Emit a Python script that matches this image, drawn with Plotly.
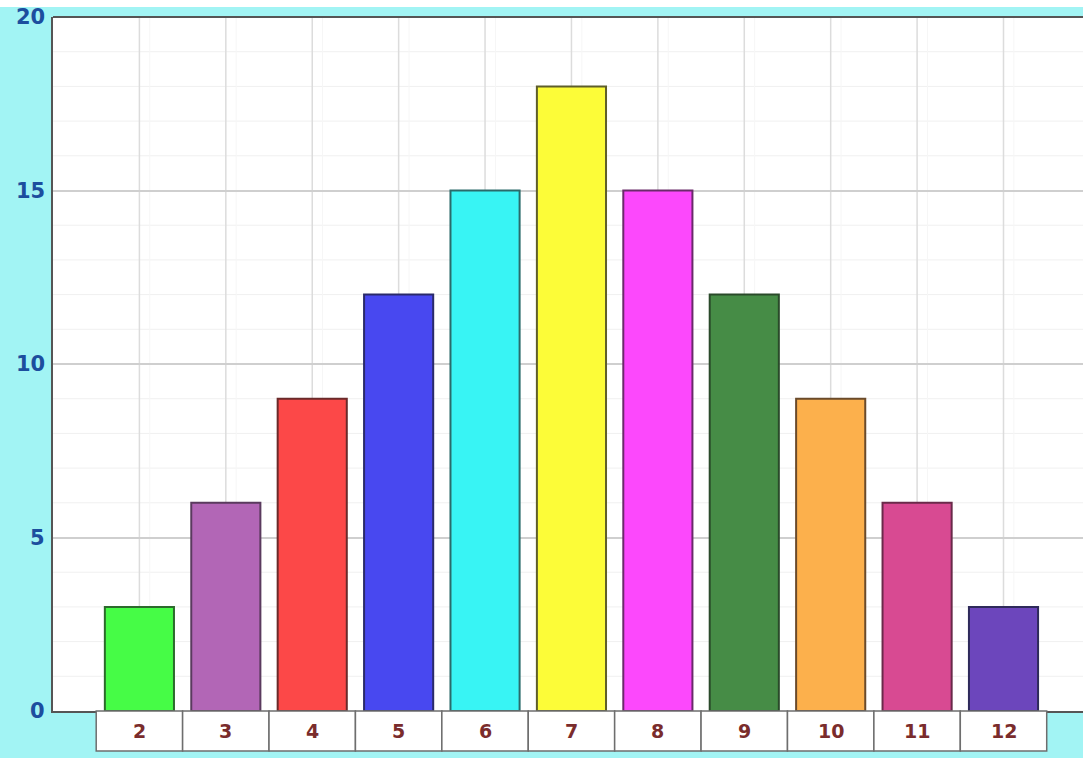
import plotly.graph_objects as go

# Dice-sum frequency chart
sums = ["2", "3", "4", "5", "6", "7", "8", "9", "10", "11", "12"]
counts = [3, 6, 9, 12, 15, 18, 15, 12, 9, 6, 3]
bar_colors = ["#46fc46", "#b266b6", "#fc4848", "#4848f0", "#38f4f4", "#fcfc38",
              "#fc48fc", "#468c46", "#fcb04c", "#d84a92", "#6c46bc"]
edge_colors = ["#2c6a2c", "#5a3a5e", "#6a2a2a", "#2a2a6a", "#2a6a6a", "#5e5e2a",
               "#6a2a6a", "#2a4a2a", "#6a4a2a", "#6a2a4a", "#2e2a5a"]
y_ticks = [0, 5, 10, 15, 20]

W, H = 1083, 758
ML, MR, MT, MB = 53, 0, 17, 47
plot_h = H - MT - MB

idx = list(range(len(sums)))

fig = go.Figure()
fig.add_trace(go.Bar(
    x=idx, y=counts, width=0.8,
    marker=dict(color=bar_colors, line=dict(color=edge_colors, width=2)),
    hoverinfo="skip",
))

shapes = []
annotations = []

# light minor horizontal grid
for v in range(0, 21):
    if v % 5:
        shapes.append(dict(type="line", xref="paper", yref="y", x0=0, x1=1, y0=v, y1=v,
                           line=dict(color="#f0f0f0", width=1), layer="below"))
# vertical grid at category centres
for i in idx:
    shapes.append(dict(type="line", xref="x", yref="paper", x0=i, x1=i, y0=0, y1=1,
                       line=dict(color="#dcdcdc", width=1.5), layer="below"))
    shapes.append(dict(type="line", xref="x", yref="paper", x0=i + 0.12, x1=i + 0.12, y0=0, y1=1,
                       line=dict(color="#f6f6f6", width=1), layer="below"))

# category label boxes beneath the axis
box_h = 40 / plot_h
for i, s in enumerate(sums):
    shapes.append(dict(type="rect", xref="x", yref="paper", x0=i - 0.5, x1=i + 0.5,
                       y0=-box_h, y1=0, fillcolor="white",
                       line=dict(color="#6e6e6e", width=1.5), layer="above"))
    annotations.append(dict(x=i, y=-box_h / 2, xref="x", yref="paper", text=s,
                            showarrow=False, yanchor="middle",
                            font=dict(family="DejaVu Sans", size=19, color="#7a2c2c",
                                      weight="bold")))

# thin white strip along the very top edge
shapes.append(dict(type="rect", xref="paper", yref="paper", x0=-ML / (W - ML), x1=1,
                   y0=1 + 10 / plot_h, y1=1 + 17 / plot_h, fillcolor="white",
                   line=dict(width=0), layer="above"))

# y tick labels
for v in y_ticks:
    annotations.append(dict(x=0, y=v, xref="paper", yref="y", text=str(v), showarrow=False,
                            xanchor="right", yanchor="middle", xshift=-6,
                            font=dict(family="DejaVu Sans", size=21, color="#1c4e9e",
                                      weight="bold")))

fig.update_layout(
    width=W, height=H,
    margin=dict(l=ML, r=MR, t=MT, b=MB),
    paper_bgcolor="#a2f4f4",
    plot_bgcolor="#ffffff",
    showlegend=False,
    bargap=0.2,
    shapes=shapes,
    annotations=annotations,
    xaxis=dict(range=[-1.0, 10.92], showticklabels=False, showgrid=False, zeroline=False,
               showline=True, linecolor="#555555", linewidth=2, mirror=False, fixedrange=True),
    yaxis=dict(range=[0, 20], tickvals=y_ticks, showticklabels=False,
               showgrid=True, gridcolor="#cfcfcf", gridwidth=1.5, zeroline=False,
               showline=True, linecolor="#555555", linewidth=2, fixedrange=True),
)
# top border line of plot area
fig.add_shape(type="line", xref="paper", yref="paper", x0=0, x1=1, y0=1, y1=1,
              line=dict(color="#555555", width=2))

fig.write_html("out.html", config={"displayModeBar": False})
